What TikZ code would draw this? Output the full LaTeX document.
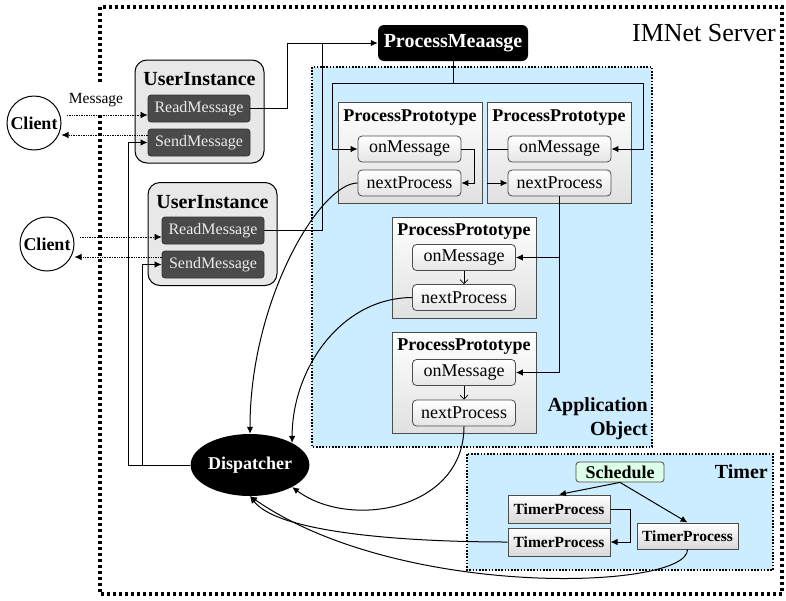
\documentclass[tikz,border=0pt]{standalone}
\usepackage{fontspec}
\setmainfont{Liberation Serif}
\usetikzlibrary{arrows.meta,shapes.geometric}

\definecolor{appblue}{RGB}{204,236,255}
\definecolor{uigray}{RGB}{232,232,232}
\definecolor{iogray}{RGB}{74,74,74}
\definecolor{schedgreen}{RGB}{220,255,232}

\tikzset{
  client/.style={circle, draw, line width=1pt, minimum size=54pt, inner sep=0pt, font=\fontsize{18}{20}\selectfont\bfseries},
  userbox/.style={draw, line width=1pt, rounded corners=12pt, fill=uigray, minimum width=129pt, minimum height=103pt},
  boxtitle/.style={inner sep=0pt, font=\fontsize{20}{22}\selectfont\bfseries},
  iobox/.style={draw=black!80, line width=0.8pt, rounded corners=3pt, fill=iogray, text=black!8, minimum width=102pt, minimum height=27pt, inner sep=0pt, font=\fontsize{16}{18}\selectfont},
  protobox/.style={draw=black!70, line width=1pt, top color=white, bottom color=black!12, minimum width=144pt, minimum height=101pt},
  prototitle/.style={inner sep=0pt, font=\fontsize{18}{20}\selectfont\bfseries},
  slot/.style={draw=black!70, line width=0.8pt, rounded corners=4pt, top color=white, bottom color=black!10, minimum width=103pt, minimum height=26pt, inner sep=0pt, font=\fontsize{18}{20}\selectfont},
  timerbox/.style={draw=black!70, line width=1pt, top color=white, bottom color=black!15, minimum width=102pt, minimum height=28pt, inner sep=0pt, font=\fontsize{15.5}{17}\selectfont\bfseries},
  area/.style={fill=appblue, line width=1.6pt, dash pattern=on 1.6pt off 1.6pt},
  arealabel/.style={inner sep=0pt, font=\fontsize{20}{24}\selectfont\bfseries},
  flow/.style={line width=1pt, -{Latex[length=7pt,width=6.5pt]}},
  link/.style={line width=1pt},
  wire/.style={line width=0.7pt, densely dotted, -{Latex[length=7pt,width=6.5pt]}},
  hop/.style={line width=0.7pt, -{Straight Barb[length=4pt,width=8pt]}},
}

\begin{document}
\begin{tikzpicture}[x=1pt,y=-1pt]
\useasboundingbox (0,0) rectangle (786,600);

% server frame
\draw[line width=3.5pt, dash pattern=on 3pt off 3pt] (100,7) rectangle (782,594);
\node[anchor=east, inner sep=0pt, font=\fontsize{26}{28}\selectfont] (server) at (776,33) {IMNet Server};

% areas
\draw[area] (312,67) rectangle (652,447);
\node[arealabel, anchor=south east, align=right] (applabel) at (648,440) {Application\\Object};
\draw[area] (467,454) rectangle (773,570);
\node[arealabel, anchor=east] (timerlabel) at (768,472) {Timer};

% clients
\node[client] (client1) at (34,123) {Client};
\node[client] (client2) at (47,244) {Client};

% user instances
\node[userbox] (ui1) at (199.5,111.5) {};
\node[boxtitle] (ui1t) at (199.5,79) {UserInstance};
\node[iobox] (rm1) at (199,108.5) {ReadMessage};
\node[iobox] (sm1) at (199,142.5) {SendMessage};

\node[userbox] (ui2) at (212.5,234) {};
\node[boxtitle] (ui2t) at (212.5,202) {UserInstance};
\node[iobox] (rm2) at (213,230.5) {ReadMessage};
\node[iobox] (sm2) at (213,264.5) {SendMessage};

% message handler
\node[fill=black, rounded corners=6pt, text=white, minimum width=150pt, minimum height=36pt, inner sep=0pt, font=\fontsize{20}{22}\selectfont\bfseries] (pm) at (453,43) {ProcessMeaasge};

% prototypes
\node[protobox] (pp1) at (410,152.5) {};
\node[prototitle] (pp1t) at (410,118) {ProcessPrototype};
\node[slot] (om1) at (409.5,149) {onMessage};
\node[slot] (np1) at (409.5,183) {nextProcess};

\node[protobox] (pp2) at (559,152.5) {};
\node[prototitle] (pp2t) at (559,118) {ProcessPrototype};
\node[slot] (om2) at (559.5,149) {onMessage};
\node[slot] (np2) at (559.5,183) {nextProcess};

\node[protobox] (pp3) at (464,267.5) {};
\node[prototitle] (pp3t) at (464,232) {ProcessPrototype};
\node[slot] (om3) at (464,257.5) {onMessage};
\node[slot] (np3) at (464,297.5) {nextProcess};

\node[protobox] (pp4) at (464,382.5) {};
\node[prototitle] (pp4t) at (464,347) {ProcessPrototype};
\node[slot] (om4) at (464,372.5) {onMessage};
\node[slot] (np4) at (464,413) {nextProcess};

% dispatcher and timer
\node[ellipse, fill=black, text=white, minimum width=110pt, minimum height=62pt, inner sep=0pt, font=\fontsize{18}{20}\selectfont\bfseries] (disp) at (250,465) {Dispatcher};

\node[draw=black!70, line width=0.8pt, rounded corners=3pt, fill=schedgreen, minimum width=88pt, minimum height=20pt, inner sep=0pt, font=\fontsize{18}{20}\selectfont\bfseries] (sched) at (620,472) {Schedule};
\node[timerbox] (tp1) at (559,509) {TimerProcess};
\node[timerbox] (tp2) at (559,542) {TimerProcess};
\node[timerbox, minimum width=101pt, minimum height=26pt] (tp3) at (687.5,536) {TimerProcess};

% client traffic
\node[fill=white, minimum height=30pt, inner xsep=1pt, font=\fontsize{15.5}{17}\selectfont] (msg) at (96,100) {Message};
\coordinate (m1) at (67,115);
\coordinate (s1) at (148,135);
\coordinate (m2) at (80,237);
\coordinate (s2) at (162,257);
\draw[wire] (m1) -- (m1 -| rm1.west);
\draw[wire] (s1) -- (s1 -| client1.east);
\draw[wire] (m2) -- (m2 -| rm2.west);
\draw[wire] (s2) -- (s2 -| client2.east);

% into ProcessMeaasge
\coordinate (j1) at (287,43);
\coordinate (j2) at (322,43);
\draw[flow] (rm1.east) -| (j1) -- (pm.west);
\draw[link] (rm2.east) -| (j2);

% prototype chain
\coordinate (tl) at (332,83);
\coordinate (tr) at (643,83);
\draw[flow] (pm.south) |- (tl) |- (om1.west);
\draw[flow] (pm.south) |- (tr) |- (om2.east);
\draw[flow] (om1.east) -- ++(13,0) |- (np1.east);
\draw[link] (pp2.west |- om2) -- (om2.west);
\draw[flow] (pp2.west |- np2) -- (np2.west);
\draw[flow] (np2.south) |- (om3.east);
\draw[flow] (np2.south) |- (om4.east);
\draw[hop] (om3.south) -- (np3.north);
\draw[hop] (om4.south) -- (np4.north);

% back to dispatcher
\draw[flow] (np1.west) .. controls (320,183) and (250,300) .. (disp.north);
\draw[flow] (np3.west) .. controls (340,298) and (292,370) .. (disp.north east);
\draw[flow] (np4.south) .. controls (464,510) and (350,530) .. (disp.south east);
\draw[flow] (tp2.west) .. controls (420,542) and (280,535) .. (disp.south);
\draw[flow] (tp3.south) .. controls (688,590) and (400,600) .. (disp.south);

% dispatcher to senders
\coordinate (d1) at (128,465);
\coordinate (d2) at (142,465);
\draw[flow] (disp.west) -- (d1) |- (sm1.west);
\draw[flow] (disp.west) -- (d2) |- (sm2.west);

% timer
\draw[flow] (sched.south) -- (tp1.north);
\draw[flow] (sched.south) -- (tp3.north);
\draw[flow] (tp1.east) -- ++(20,0) |- (tp2.east);

\end{tikzpicture}
\end{document}
